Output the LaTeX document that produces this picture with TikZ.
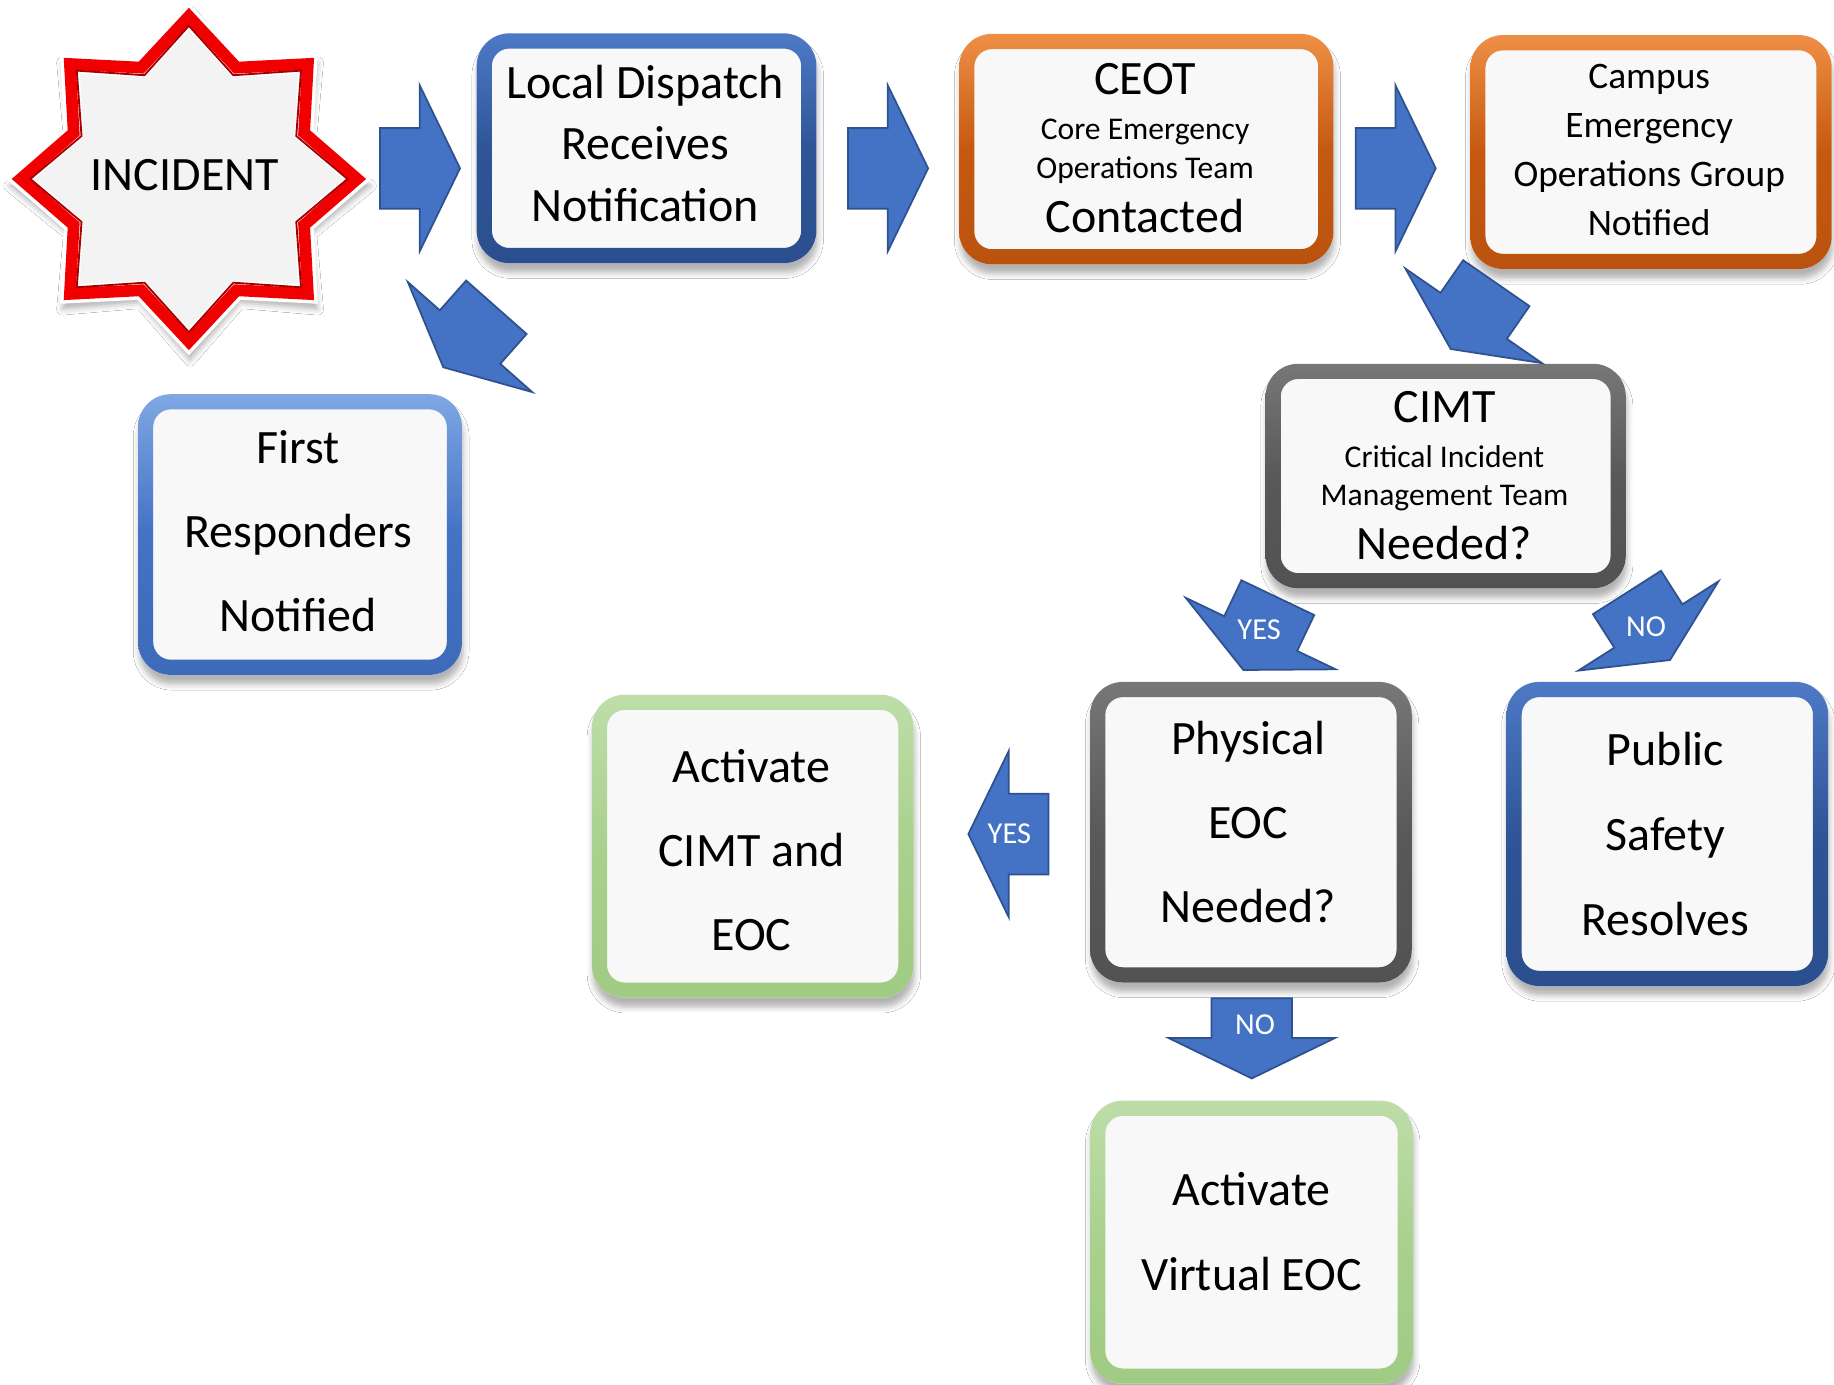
\documentclass[tikz,border=0pt]{standalone}
\usepackage{fontspec}
\setmainfont{Carlito}
\usetikzlibrary{shadows.blur}
\definecolor{arrowblue}{HTML}{4472C4}
\definecolor{arrowedge}{HTML}{2F528F}
\definecolor{boxfill}{HTML}{F8F8F8}
\definecolor{starfill}{HTML}{F3F3F3}
\definecolor{starred}{HTML}{F00000}
% border colours (top / middle / bottom)
\definecolor{dbT}{HTML}{4D79C6}\definecolor{dbM}{HTML}{2F5597}\definecolor{dbB}{HTML}{2B4F8E}
\definecolor{lbT}{HTML}{7FA7E4}\definecolor{lbM}{HTML}{4472C4}\definecolor{lbB}{HTML}{3D6AB9}
\definecolor{orT}{HTML}{EE8F45}\definecolor{orM}{HTML}{C65911}\definecolor{orB}{HTML}{BA530E}
\definecolor{grT}{HTML}{777777}\definecolor{grM}{HTML}{595959}\definecolor{grB}{HTML}{525252}
\definecolor{gnT}{HTML}{BEDDA8}\definecolor{gnM}{HTML}{A9D18E}\definecolor{gnB}{HTML}{A0CB83}

\tikzset{
  arrowshape/.style={fill=arrowblue, draw=arrowedge, line width=1.5, line join=miter},
  boxbase/.style={rectangle, rounded corners=28, fill=boxfill, inner sep=0, draw=none,
    blur shadow={shadow xshift=1pt, shadow yshift=-8pt, shadow blur radius=5pt, shadow opacity=30}},
  bigtext/.style={align=center, inner sep=0, font=\fontsize{41}{72}\selectfont},
  smalltext/.style={align=center, inner sep=0, font=\fontsize{27}{33}\selectfont},
  lbl/.style={text=white, inner sep=0, font=\fontsize{26}{30}\selectfont},
}

% name, x1, y1, x2, y2, colour prefix
\newcommand\flowbox[6]{%
  \node[boxbase, minimum width={#4-#2}, minimum height={#5-#3}] (#1) at ({(#2+#4)/2},{(#3+#5)/2}) {};
  \shade[top color=#6T, bottom color=#6B, middle color=#6M, even odd rule, rounded corners=28]
    (#2,#3) rectangle (#4,#5) [rounded corners=15] ({#2+13},{#3+13}) rectangle ({#4-13},{#5-13});
}
% name, tip x, tip y, screen angle
\newcommand\blockarrow[4]{%
  \begin{scope}[shift={(#2,#3)}, rotate=-#4]
    \draw[arrowshape] (0,0) -- (-34.5,71) -- (-34.5,34.5) -- (-68.5,34.5) -- (-68.5,-34.5)
      -- (-34.5,-34.5) -- (-34.5,-71) -- cycle;
    \coordinate (#1) at (-34.25,0);
  \end{scope}
}

\begin{document}
\begin{tikzpicture}[x=1pt,y=-1pt]
\useasboundingbox (0,0) rectangle (1568,1184);
\fill[white] (0,0) rectangle (1568,1184);

% ---- star ----
\begin{scope}[shift={(161.5,153)}, xscale=1.035]
  \path[fill=white, blur shadow={shadow xshift=1pt, shadow yshift=-6pt, shadow blur radius=5pt, shadow opacity=30}]
    (90:149) \foreach \i in {1,...,15}{ -- ({90+22.5*\i}:{149-41*mod(\i,2)}) } -- cycle;
  \draw[white, line width=16, line join=miter, fill=starfill]
    (90:139) \foreach \i in {1,...,15}{ -- ({90+22.5*\i}:{139-36*mod(\i,2)}) } -- cycle;
  \draw[starred, line width=10, line join=miter]
    (90:139) \foreach \i in {1,...,15}{ -- ({90+22.5*\i}:{139-36*mod(\i,2)}) } -- cycle;
  \draw[red!65!black, line width=1.6, line join=miter]
    (90:131) \foreach \i in {1,...,15}{ -- ({90+22.5*\i}:{131-35*mod(\i,2)}) } -- cycle;
\end{scope}
\node[bigtext] (incident) at (158,150) {INCIDENT};

% ---- boxes ----
\flowbox{ld}{407.5}{28.5}{698}{225}{db}
\flowbox{ceot}{820}{29}{1140}{226}{or}
\flowbox{cam}{1257}{30}{1566}{230}{or}
\flowbox{fr}{118}{337}{395}{577}{lb}
\flowbox{cimt}{1082}{311}{1390}{503}{gr}
\flowbox{peoc}{932}{583}{1207}{840}{gr}
\flowbox{ps}{1288}{583}{1563}{843}{db}
\flowbox{ace}{506}{594}{781}{853}{gn}
\flowbox{ave}{932}{941}{1208}{1183}{gn}

% ---- texts ----
\node[bigtext, font=\fontsize{41}{52.5}\selectfont] (ldtext) at (551.5,122.5) {Local Dispatch\\Receives\\Notification};
\node[bigtext] (ceotA) at (979,68) {CEOT};
\node[smalltext] (ceotB) at (979,129.5) {Core Emergency\\Operations Team};
\node[bigtext] (ceotC) at (979,185) {Contacted};
\node[bigtext, font=\fontsize{32}{42}\selectfont] (camtext) at (1410,128) {Campus\\Emergency\\Operations Group\\Notified};
\node[bigtext] (frtext) at (255,454) {First\\Responders\\Notified};
\node[bigtext] (cimtA) at (1235,348) {CIMT};
\node[smalltext] (cimtB) at (1235,409) {Critical Incident\\Management Team};
\node[bigtext] (cimtC) at (1235,464) {Needed?};
\node[bigtext] (peoctext) at (1067,703) {Physical\\EOC\\Needed?};
\node[bigtext, font=\fontsize{41}{73}\selectfont] (pstext) at (1424,713) {Public\\Safety\\Resolves};
\node[bigtext] (acetext) at (642.5,727) {Activate\\CIMT and\\EOC};
\node[bigtext] (avetext) at (1070,1053) {Activate\\Virtual EOC};

% ---- block arrows ----
\blockarrow{a1}{393.3}{143.9}{0}
\blockarrow{a2}{793.5}{143.9}{0}
\blockarrow{a3}{1227.5}{143.9}{0}
\blockarrow{a4}{379}{314}{131.5}
\blockarrow{a5}{1240.3}{298.4}{124.7}
\blockarrow{a6}{1063}{572.8}{115.5}
\blockarrow{a7}{1427.8}{564.3}{57.5}
\blockarrow{a8}{827.9}{713.1}{180}
\blockarrow{a9}{1070.2}{922}{90}

\node[lbl] (yes1) at (1076.5,538) {YES};
\node[lbl] (no1) at (1407.3,536) {NO};
\node[lbl] (yes2) at (863,712.5) {YES};
\node[lbl] (no2) at (1073,876) {NO};
\end{tikzpicture}
\end{document}
